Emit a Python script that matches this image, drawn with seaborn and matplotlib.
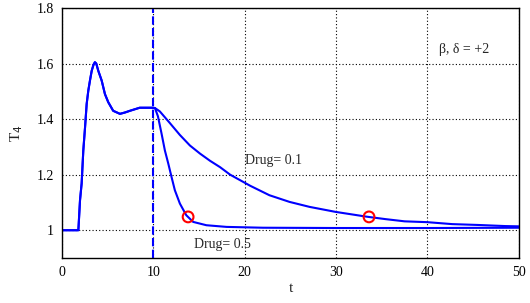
import matplotlib
matplotlib.use("Agg")
import matplotlib.pyplot as plt
import seaborn as sns
import pandas as pd

# Shared pre-drug trajectory
t_pre = [0.0, 1.79, 1.97, 2.15, 2.33, 2.52, 2.7, 2.88, 3.06, 3.25, 3.45, 3.6, 3.75, 3.97, 4.34,
         4.7, 5.06, 5.6, 6.34, 6.9, 7.43, 8.5, 9.8, 10.17]
T_pre = [1.0, 1.0, 1.108, 1.169, 1.287, 1.37, 1.455, 1.503, 1.539, 1.574, 1.596, 1.605, 1.6, 1.574, 1.539,
         1.49, 1.461, 1.43, 1.419, 1.424, 1.43, 1.441, 1.441, 1.44]

# Drug = 0.1 branch
t_d1 = [10.17, 10.7, 11.8, 12.9, 14.0, 15.1, 16.2, 17.3, 18.4, 19.5, 20.6, 22.7, 24.9, 27.1,
        29.95, 33.3, 35.4, 37.5, 40.0, 42.7, 45.5, 48.5, 50.0]
T_d1 = [1.44, 1.428, 1.386, 1.343, 1.305, 1.276, 1.25, 1.227, 1.2, 1.18, 1.16, 1.126, 1.102, 1.084,
        1.066, 1.049, 1.04, 1.032, 1.029, 1.022, 1.019, 1.015, 1.014]

# Drug = 0.5 branch
t_d5 = [10.17, 10.5, 10.9, 11.26, 11.63, 12.0, 12.35, 12.9, 13.6, 14.35, 15.8, 18.0, 22.0,
        30.0, 40.0, 50.0]
T_d5 = [1.44, 1.41, 1.347, 1.287, 1.24, 1.19, 1.144, 1.096, 1.054, 1.03, 1.018, 1.012, 1.009,
        1.008, 1.008, 1.009]

# Marked points
mark_t = [13.8, 33.6]
mark_T = [1.048, 1.048]

drug_time = 10.0

xticks = [0, 10, 20, 30, 40, 50]
yticks = [1.0, 1.2, 1.4, 1.6, 1.8]
yticklabels = ["1", "1.2", "1.4", "1.6", "1.8"]

sns.set_theme(style="white")
plt.rcParams['font.family'] = ['Liberation Serif', 'DejaVu Serif']

fig = plt.figure(figsize=(5.3, 3.03), dpi=100)
ax = fig.add_axes([0.117, 0.1485, 0.862, 0.825])

blue = (0, 0, 1)
df = pd.concat([
    pd.DataFrame({"t": t_pre + t_d1, "T": T_pre + T_d1, "branch": "d1"}),
    pd.DataFrame({"t": t_pre + t_d5, "T": T_pre + T_d5, "branch": "d5"}),
])
for name, sub in df.groupby("branch"):
    sns.lineplot(data=sub, x="t", y="T", ax=ax, color=blue, lw=1.5, sort=False, estimator=None)

ax.axvline(drug_time, color=blue, lw=1.5, ls=(0, (4, 1.6)))
sns.scatterplot(x=mark_t, y=mark_T, ax=ax, marker="o", s=60, facecolor="none",
                edgecolor="red", linewidth=1.5, zorder=5)

ax.set_xlim(0, 50)
ax.set_ylim(0.9, 1.8)
ax.set_xticks(xticks)
ax.set_yticks(yticks)
ax.set_yticklabels(yticklabels)
ax.grid(True, color="black", ls=(0, (1, 2)), lw=0.8)
for s in ax.spines.values():
    s.set_color("black")
    s.set_linewidth(1.0)
ax.tick_params(axis="both", direction="in", length=4, labelsize=10, colors="black", pad=6)

ax.set_xlabel("t", fontsize=11, labelpad=2)
ax.set_ylabel("T$_4$", fontsize=11, labelpad=8)

ax.text(20.0, 1.25, "Drug= 0.1", fontsize=10, ha="left", va="center")
ax.text(14.4, 0.95, "Drug= 0.5", fontsize=10, ha="left", va="center")
ax.text(41.3, 1.65, "β, δ = +2", fontsize=10, ha="left", va="center")

fig.savefig("out.png", dpi=100)
